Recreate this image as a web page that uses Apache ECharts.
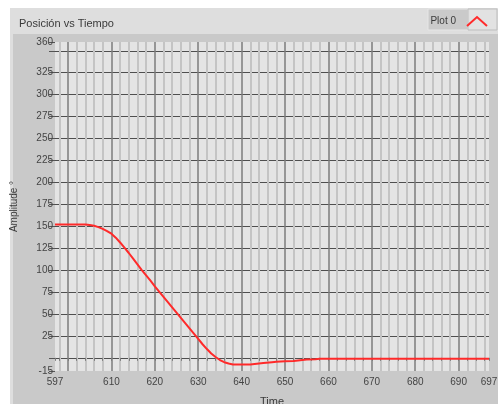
<!DOCTYPE html>
<html>
<head>
<meta charset="utf-8">
<script src="https://cdn.jsdelivr.net/npm/echarts@6/dist/echarts.min.js"></script>
<style>
  html, body { margin: 0; padding: 0; background: #ffffff; }
  #chart { width: 498px; height: 404px; }
</style>
</head>
<body>
<div id="chart"></div>
<script>
// Position trace (degrees) over time
const times = [597, 599, 601, 603, 604, 605, 606, 607, 608, 609, 610, 611, 612, 613, 614, 615, 616,
  617, 618, 619, 620, 621, 622, 623, 624, 625, 626, 627, 628, 629, 630, 631, 632, 633, 634, 635,
  636, 637, 638, 640, 642, 643, 645, 647, 648, 650, 652, 653, 655, 657, 658, 660, 670, 680, 690, 697];
const amplitude = [152, 152, 152, 152, 152, 151.5, 150.5, 149, 147, 144.5, 141.5, 137, 131.5, 125.5, 119.5, 113, 106.5,
  100, 94, 88, 81.5, 75.5, 69.5, 63.5, 57.5, 51.5, 45.5, 39.5, 33.5, 27.5, 21.5, 15.5, 10, 5, 1, -2.5,
  -5, -6.5, -7.5, -7.5, -7.5, -7, -6, -5, -4.5, -4, -3.5, -3, -2, -1.5, -1, -1, -1, -1, -1, -1];

// Axis ranges and tick values
const xRange = [597, 697];
const yRange = [-15, 360];
const xLabels = [597, 610, 620, 630, 640, 650, 660, 670, 680, 690, 697];
const xMajorGrid = [600, 610, 620, 630, 640, 650, 660, 670, 680, 690];
const xMinorGrid = [598, 602, 604, 606, 608, 612, 614, 616, 618, 622, 624, 626, 628, 632, 634, 636, 638,
  642, 644, 646, 648, 652, 654, 656, 658, 662, 664, 666, 668, 672, 674, 676, 678, 682, 684, 686, 688,
  692, 694, 696];
const xTicks = [597, 598, 600, 602, 604, 606, 608, 610, 612, 614, 616, 618, 620, 622, 624, 626, 628, 630,
  632, 634, 636, 638, 640, 642, 644, 646, 648, 650, 652, 654, 656, 658, 660, 662, 664, 666, 668, 670,
  672, 674, 676, 678, 680, 682, 684, 686, 688, 690, 692, 694, 696, 697];
const yLabels = [-15, 25, 50, 75, 100, 125, 150, 175, 200, 225, 250, 275, 300, 325, 360];
const yTicks = [-15, 0, 25, 50, 75, 100, 125, 150, 175, 200, 225, 250, 275, 300, 325, 350, 360];
const yGrid = [0, 25, 50, 75, 100, 125, 150, 175, 200, 225, 250, 275, 300, 325, 350];

const chart = echarts.init(document.getElementById('chart'), null, { renderer: 'canvas' });

const font = 'Liberation Sans, Arial, sans-serif';

function gridAxis(values, color, width) {
  return {
    type: 'value', min: xRange[0], max: xRange[1], position: 'bottom', gridIndex: 0,
    axisLine: { show: false },
    axisLabel: { show: false },
    axisTick: { show: false, customValues: values },
    splitLine: { show: true, lineStyle: { color: color, width: width } }
  };
}

chart.setOption({
  animation: false,
  backgroundColor: '#ffffff',
  graphic: [
    { type: 'rect', z: -10, shape: { x: 10, y: 8, width: 488, height: 396 }, style: { fill: '#dedede' } },
    { type: 'rect', z: -10, shape: { x: 13, y: 34, width: 485, height: 370 }, style: { fill: '#c9c9c9' } },
    { type: 'rect', z: -10, shape: { x: 428, y: 9, width: 40, height: 21 }, style: { fill: '#cacaca', stroke: '#e6e6e6', lineWidth: 1 } },
    { type: 'rect', z: -10, shape: { x: 468, y: 9, width: 29, height: 21 }, style: { fill: '#e2e2e2', stroke: '#bdbdbd', lineWidth: 1 } }
  ],
  title: {
    text: 'Posición vs Tiempo',
    left: 14, top: 13,
    textStyle: { fontFamily: font, fontSize: 11, fontWeight: 'normal', color: '#3a3a3a' }
  },
  legend: {
    right: 5, top: 11,
    align: 'right',
    itemWidth: 20, itemHeight: 10, itemGap: 6,
    data: [{ name: 'Plot 0', icon: 'path://M0,10L10,1L20,10' }],
    itemStyle: { color: 'transparent', borderColor: '#ff2a2a', borderWidth: 2 },
    textStyle: { fontFamily: font, fontSize: 10, color: '#3a3a3a', padding: [0, 6, 0, 0] }
  },
  grid: {
    left: 55, right: 9, top: 42, bottom: 33,
    outerBoundsMode: 'none',
    containLabel: false,
    show: true, backgroundColor: '#e4e4e4', borderWidth: 0
  },
  xAxis: [
    {
      type: 'value', min: xRange[0], max: xRange[1], position: 'bottom',
      name: 'Time', nameLocation: 'middle', nameGap: 25,
      nameTextStyle: { fontFamily: font, fontSize: 11, color: '#3a3a3a' },
      axisLine: { show: false },
      axisTick: { show: true, length: 3, customValues: xTicks, lineStyle: { color: '#7a7a7a' } },
      axisLabel: { customValues: xLabels, margin: 6, fontFamily: font, fontSize: 10, color: '#444' },
      splitLine: { show: false }
    },
    gridAxis(xMinorGrid, '#c4c4c4', 2),
    gridAxis(xMajorGrid, '#7d7d7d', 1.5)
  ],
  yAxis: [
    {
      type: 'value', min: yRange[0], max: yRange[1],
      name: 'Amplitude °', nameLocation: 'middle', nameGap: 36, nameRotate: 90,
      nameTextStyle: { fontFamily: font, fontSize: 10, color: '#3a3a3a' },
      axisLine: { show: false },
      axisTick: { show: true, length: 6, customValues: yTicks, lineStyle: { color: '#555' } },
      axisLabel: { customValues: yLabels, margin: 2, fontFamily: font, fontSize: 10, color: '#444' },
      splitLine: { show: false }
    },
    {
      type: 'value', min: yRange[0], max: yRange[1],
      axisLine: { show: false },
      axisLabel: { show: false },
      axisTick: { show: false, customValues: yGrid },
      splitLine: { show: true, lineStyle: { color: '#4e4e4e', width: 1.2 } }
    }
  ],
  series: [{
    name: 'Plot 0',
    type: 'line',
    xAxisIndex: 0, yAxisIndex: 0,
    showSymbol: false,
    symbol: 'none',
    lineStyle: { color: '#ff2a2a', width: 2 },
    itemStyle: { color: '#ff2a2a' },
    data: times.map((t, i) => [t, amplitude[i]]),
    z: 5
  }]
});
</script>
</body>
</html>
